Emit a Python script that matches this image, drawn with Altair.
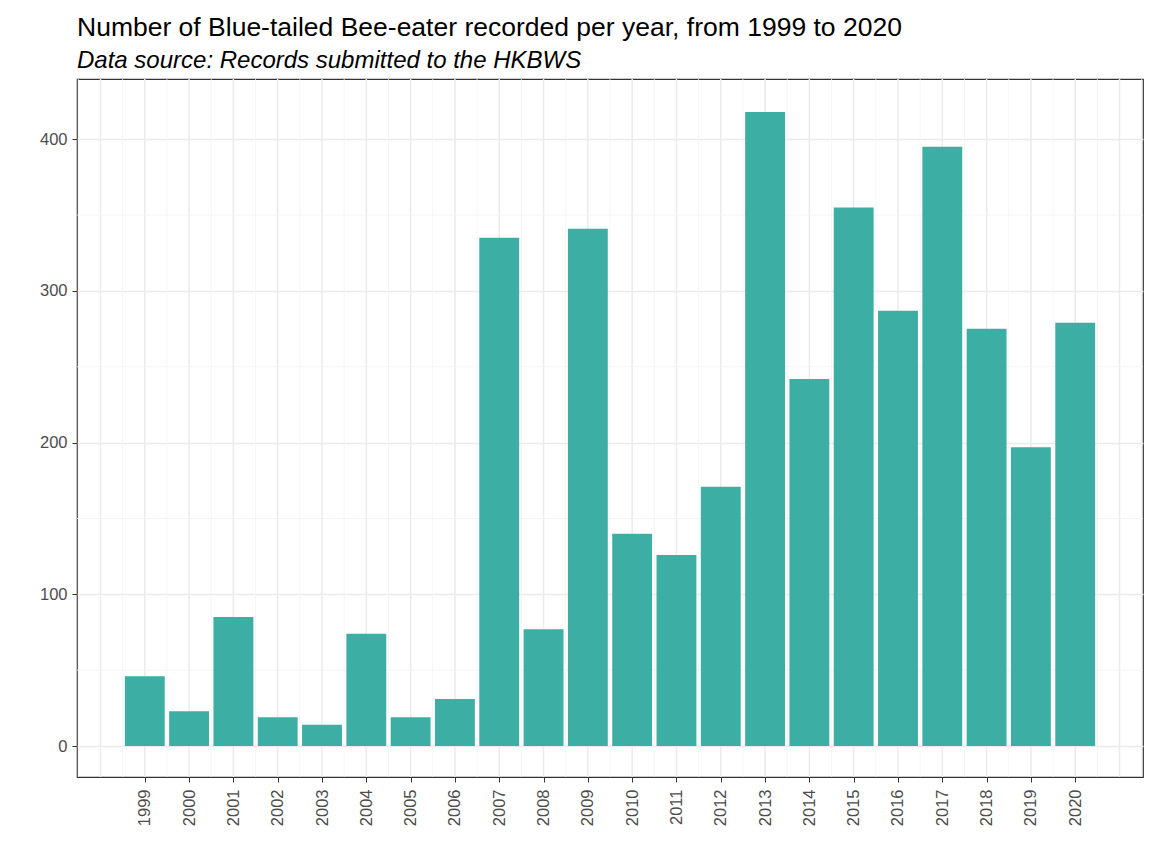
import altair as alt
import pandas as pd

years = list(range(1999, 2021))
counts = [46, 23, 85, 19, 14, 74, 19, 31, 335, 77, 341, 140, 126, 171, 418, 242, 355, 287, 395, 275, 197, 279]

x_major_grid = [1998 + i for i in range(24)]          # 1998..2021
x_minor_grid = [1997.5 + i for i in range(25)]        # 1997.5..2021.5
y_minor_grid = [50, 150, 250, 350]
y_ticks = [0, 100, 200, 300, 400]

df = pd.DataFrame({"year": years, "count": counts})

XDOM = [1997.47, 2021.53]
YDOM = [-20.4, 439.7]

xs = alt.Scale(domain=XDOM, nice=False, zero=False)
ys = alt.Scale(domain=YDOM, nice=False, zero=False)

x_axis = alt.Axis(values=years, format="d", labelAngle=270, grid=False,
                  labelFontSize=16.5, labelColor="#4D4D4D", labelFont="Liberation Sans",
                  tickColor="#333333", tickSize=5, labelPadding=7, domain=False)
y_axis = alt.Axis(values=y_ticks, grid=True, gridColor="#EBEBEB", gridWidth=1.5,
                  labelFontSize=16.5, labelColor="#4D4D4D", labelFont="Liberation Sans",
                  tickColor="#333333", tickSize=5, labelPadding=5, domain=False)

vminor = alt.Chart(pd.DataFrame({"g": [v for v in x_minor_grid if XDOM[0] < v < XDOM[1]]})).mark_rule(
    color="#F2F2F2", strokeWidth=0.8
).encode(x=alt.X("g:Q", scale=xs, axis=x_axis, title=None))

vmajor = alt.Chart(pd.DataFrame({"g": x_major_grid})).mark_rule(
    color="#EBEBEB", strokeWidth=1.5
).encode(x=alt.X("g:Q", scale=xs, axis=x_axis, title=None))

hminor = alt.Chart(pd.DataFrame({"g": y_minor_grid})).mark_rule(
    color="#F2F2F2", strokeWidth=0.8
).encode(y=alt.Y("g:Q", scale=ys, axis=y_axis, title=None))

bars = alt.Chart(df).transform_calculate(
    x0="datum.year - 0.45", x1="datum.year + 0.45"
).mark_rect(color="#3DAEA3").encode(
    x=alt.X("x0:Q", scale=xs, title=None, axis=x_axis),
    x2="x1:Q",
    y=alt.Y("count:Q", scale=ys, title=None, axis=y_axis),
    y2=alt.datum(0),
)

chart = alt.layer(vminor, vmajor, hminor, bars).properties(
    width=1066,
    height=698,
    autosize=alt.AutoSizeParams(type="none"),
    padding={"left": 69, "top": 71, "right": 4, "bottom": 70},
    title=alt.TitleParams(
        text="Number of Blue-tailed Bee-eater recorded per year, from 1999 to 2020",
        subtitle="Data source: Records submitted to the HKBWS",
        anchor="start",
        frame="group",
        font="Liberation Sans",
        fontSize=26.5,
        fontWeight="normal",
        color="#000000",
        subtitleFont="Liberation Sans",
        subtitleFontSize=24,
        subtitleFontStyle="italic",
        subtitleColor="#000000",
        subtitlePadding=8,
        offset=5,
    ),
).configure_view(stroke="#333333", strokeWidth=1.2)

chart.save("out.html", embed_options={"renderer": "svg", "actions": False})
